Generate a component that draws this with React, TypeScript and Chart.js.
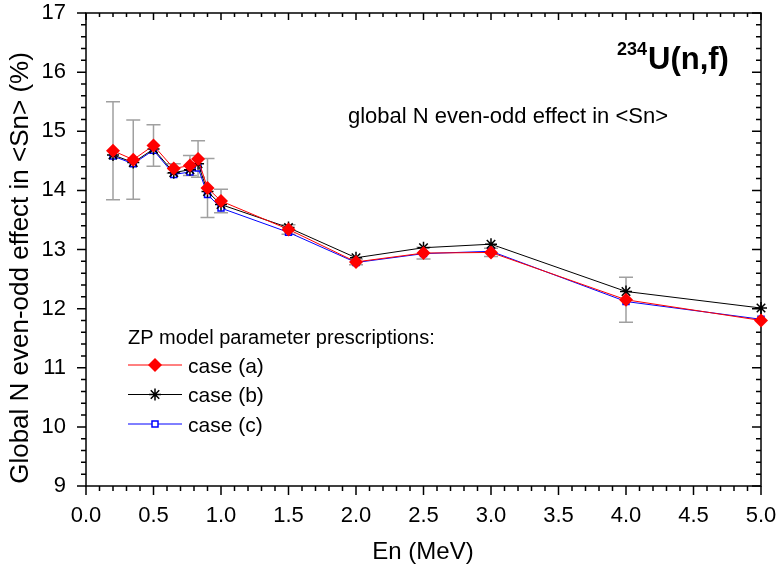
import React, { useEffect, useRef } from 'react';
import { Chart, registerables } from 'chart.js';

Chart.register(...registerables);

// ---------- data ----------
const energies = [0.2, 0.35, 0.5, 0.65, 0.77, 0.83, 0.9, 1.0, 1.5, 2.0, 2.5, 3.0, 4.0, 5.0];
const caseA = [14.67, 14.52, 14.76, 14.37, 14.42, 14.53, 14.04, 13.82, 13.34, 12.79, 12.94, 12.95, 12.15, 11.8];
const caseB = [14.6, 14.47, 14.7, 14.3, 14.35, 14.45, 13.98, 13.76, 13.37, 12.86, 13.03, 13.09, 12.29, 12.01];
const caseC = [14.58, 14.45, 14.68, 14.27, 14.31, 14.38, 13.93, 13.7, 13.29, 12.78, 12.93, 12.97, 12.12, 11.82];
const errA = [0.83, 0.67, 0.35, 0.08, 0.17, 0.31, 0.5, 0.2, 0.08, 0.05, 0.1, 0.07, 0.38, 0];

const xTicks = [0, 0.5, 1.0, 1.5, 2.0, 2.5, 3.0, 3.5, 4.0, 4.5, 5.0];
const yTicks = [9, 10, 11, 12, 13, 14, 15, 16, 17];
const xMinorStep = 0.1;
const yMinorStep = 0.2;

const seriesNames = ['case (a)', 'case (b)', 'case (c)'];
const xTitle = 'En (MeV)';
const yTitle = 'Global N even-odd effect in <Sn> (%)';
const massNumber = '234';
const reaction = 'U(n,f)';
const subtitle = 'global N even-odd effect in <Sn>';
const legendHeader = 'ZP model parameter prescriptions:';

const FONT = '"Liberation Sans", Arial, Helvetica, sans-serif';

function drawMarker(ctx: CanvasRenderingContext2D, kind: number, x: number, y: number) {
  ctx.save();
  if (kind === 0) {
    const r = 7;
    ctx.fillStyle = '#ff0000';
    ctx.beginPath();
    ctx.moveTo(x, y - r);
    ctx.lineTo(x + r, y);
    ctx.lineTo(x, y + r);
    ctx.lineTo(x - r, y);
    ctx.closePath();
    ctx.fill();
  } else if (kind === 1) {
    const r = 6;
    ctx.strokeStyle = '#000';
    ctx.lineWidth = 1.5;
    ctx.beginPath();
    ctx.moveTo(x - r, y); ctx.lineTo(x + r, y);
    ctx.moveTo(x, y - r); ctx.lineTo(x, y + r);
    const d = r * 0.707;
    ctx.moveTo(x - d, y - d); ctx.lineTo(x + d, y + d);
    ctx.moveTo(x - d, y + d); ctx.lineTo(x + d, y - d);
    ctx.stroke();
  } else {
    ctx.fillStyle = '#fff';
    ctx.strokeStyle = '#0000ff';
    ctx.lineWidth = 1.5;
    ctx.fillRect(x - 3, y - 3, 6, 6);
    ctx.strokeRect(x - 3, y - 3, 6, 6);
  }
  ctx.restore();
}

const framePlugin = {
  id: 'frameTicks',
  beforeDatasetsDraw(chart: any) {
    const { ctx, chartArea: a, scales } = chart;
    const xs = scales.x;
    const ys = scales.y;
    ctx.save();
    // error bars (case a)
    ctx.strokeStyle = '#a0a0a0';
    ctx.lineWidth = 1.5;
    energies.forEach((e, i) => {
      const err = errA[i];
      if (!err) return;
      const px = xs.getPixelForValue(e);
      const top = ys.getPixelForValue(caseA[i] + err);
      const bot = ys.getPixelForValue(caseA[i] - err);
      ctx.beginPath();
      ctx.moveTo(px, top); ctx.lineTo(px, bot);
      ctx.moveTo(px - 7, top); ctx.lineTo(px + 7, top);
      ctx.moveTo(px - 7, bot); ctx.lineTo(px + 7, bot);
      ctx.stroke();
    });
    // frame
    ctx.strokeStyle = '#000';
    ctx.lineWidth = 1.5;
    ctx.strokeRect(a.left, a.top, a.right - a.left, a.bottom - a.top);
    ctx.beginPath();
    const xmin = xTicks[0], xmax = xTicks[xTicks.length - 1];
    const nx = Math.round((xmax - xmin) / xMinorStep);
    for (let k = 0; k <= nx; k++) {
      const v = xmin + k * xMinorStep;
      const major = xTicks.some(t => Math.abs(t - v) < 1e-6);
      const px = xs.getPixelForValue(v);
      ctx.moveTo(px, a.bottom); ctx.lineTo(px, a.bottom + (major ? 9 : 5));
      ctx.moveTo(px, a.top); ctx.lineTo(px, a.top + (major ? 7 : 4));
    }
    const ymin = yTicks[0], ymax = yTicks[yTicks.length - 1];
    const ny = Math.round((ymax - ymin) / yMinorStep);
    for (let k = 0; k <= ny; k++) {
      const v = ymin + k * yMinorStep;
      const major = yTicks.some(t => Math.abs(t - v) < 1e-6);
      const py = ys.getPixelForValue(v);
      ctx.moveTo(a.left, py); ctx.lineTo(a.left - (major ? 9 : 5), py);
      ctx.moveTo(a.right, py); ctx.lineTo(a.right - (major ? 9 : 5), py);
    }
    ctx.stroke();
    ctx.restore();
  },
  afterDraw(chart: any) {
    const { ctx } = chart;
    ctx.save();
    ctx.fillStyle = '#000';
    ctx.textBaseline = 'alphabetic';
    ctx.textAlign = 'left';
    // reaction label
    ctx.font = `bold 18px ${FONT}`;
    ctx.fillText(massNumber, 617, 55);
    ctx.font = `bold 31px ${FONT}`;
    ctx.fillText(reaction, 648, 69);
    // subtitle
    ctx.font = `22px ${FONT}`;
    ctx.fillText(subtitle, 348, 123);
    // axis titles
    ctx.font = `24px ${FONT}`;
    ctx.textAlign = 'center';
    ctx.textBaseline = 'middle';
    ctx.fillText(xTitle, 423, 552);
    ctx.save();
    ctx.translate(21, 268);
    ctx.rotate(-Math.PI / 2);
    ctx.font = `26px ${FONT}`;
    ctx.fillText(yTitle, 0, 0);
    ctx.restore();
    // legend
    ctx.textAlign = 'left';
    ctx.textBaseline = 'alphabetic';
    ctx.font = `20px ${FONT}`;
    ctx.fillText(legendHeader, 128, 344);
    const colors = ['#ff0000', '#000000', '#0000ff'];
    ctx.font = `21px ${FONT}`;
    seriesNames.forEach((name, i) => {
      const y = 365 + i * 29.5;
      ctx.strokeStyle = colors[i];
      ctx.lineWidth = 1;
      ctx.beginPath();
      ctx.moveTo(128, y); ctx.lineTo(182, y);
      ctx.stroke();
      drawMarker(ctx, i, 155, y);
      ctx.fillStyle = '#000';
      ctx.fillText(name, 188, y + 7.5);
    });
    ctx.restore();
  },
};

export default function App() {
  const ref = useRef<HTMLCanvasElement>(null);
  useEffect(() => {
    document.body.style.margin = '0';
    const ctx = ref.current!.getContext('2d')!;
    const mk = (vals: number[]) => energies.map((e, i) => ({ x: e, y: vals[i] }));
    const tickFont = { family: FONT, size: 22 };
    const chart = new Chart(ctx, {
      type: 'line',
      data: {
        datasets: [
          {
            label: seriesNames[0], data: mk(caseA), borderColor: '#ff0000', backgroundColor: '#ff0000',
            borderWidth: 1, pointStyle: 'rectRot', pointRadius: 7, pointBorderWidth: 0, clip: false as any,
          },
          {
            label: seriesNames[1], data: mk(caseB), borderColor: '#000000', backgroundColor: '#000000',
            borderWidth: 1, pointStyle: 'star', pointRadius: 6, pointBorderWidth: 1.5, clip: false as any,
          },
          {
            label: seriesNames[2], data: mk(caseC), borderColor: '#0000ff', backgroundColor: '#ffffff',
            borderWidth: 1, pointStyle: 'rect', pointRadius: 4.2, pointBorderWidth: 1.5, clip: false as any,
          },
        ],
      },
      options: {
        animation: false,
        responsive: false,
        devicePixelRatio: 1,
        events: [],
        layout: { padding: { top: 13, right: 18, left: 0, bottom: 0 }, autoPadding: false },
        plugins: { legend: { display: false }, tooltip: { enabled: false } },
        scales: {
          x: {
            type: 'linear', min: 0, max: 5,
            afterBuildTicks: (s: any) => { s.ticks = xTicks.map(v => ({ value: v })); },
            afterFit: (s: any) => { s.height = 83; s.paddingRight = 0; s.paddingLeft = 0; },
            grid: { display: false, drawTicks: false },
            border: { display: false },
            ticks: { font: tickFont, color: '#000', padding: 17, maxRotation: 0, autoSkip: false, callback: (v: any) => Number(v).toFixed(1) },
          },
          y: {
            type: 'linear', min: 9, max: 17,
            afterBuildTicks: (s: any) => { s.ticks = yTicks.map(v => ({ value: v })); },
            afterFit: (s: any) => { s.width = 86; s.paddingTop = 0; s.paddingBottom = 0; },
            grid: { display: false, drawTicks: false },
            border: { display: false },
            ticks: { font: tickFont, color: '#000', padding: 20, autoSkip: false, callback: (v: any) => String(v) },
          },
        },
      },
      plugins: [framePlugin],
    } as any);
    return () => chart.destroy();
  }, []);
  return <canvas ref={ref} width={779} height={569} style={{ display: 'block' }} />;
}
